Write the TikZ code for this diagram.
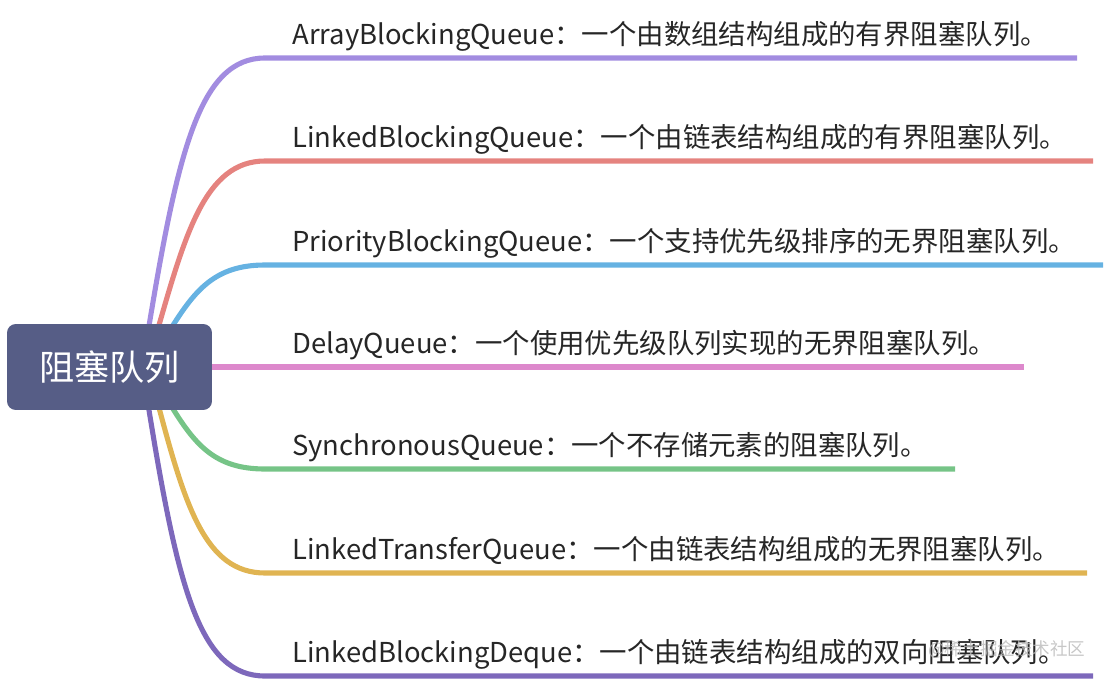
\documentclass[tikz,border=0pt]{standalone}
\usepackage{fontspec}
\setmainfont{Noto Sans CJK SC}
\usetikzlibrary{positioning}

\definecolor{rootblue}{HTML}{565D86}
\definecolor{txtgray}{HTML}{262626}
\definecolor{brPurple}{HTML}{A28CE0}
\definecolor{brRed}{HTML}{E5837F}
\definecolor{brBlue}{HTML}{66B2E2}
\definecolor{brPink}{HTML}{DD88CC}
\definecolor{brGreen}{HTML}{76C487}
\definecolor{brYellow}{HTML}{E0B452}
\definecolor{brDeep}{HTML}{7D68BB}

\begin{document}
\begin{tikzpicture}[
    x=0.02cm, y=-0.02cm,
    branch/.style={line width=2.9pt},
    leaf/.style={anchor=base west, inner sep=0pt, text=txtgray, font=\fontsize{15.6}{18}\selectfont},
    rootbox/.style={fill=rootblue, rounded corners=5pt, minimum width=4.1cm, minimum height=1.72cm,
        inner sep=0pt, text=white, font=\fontsize{20}{22}\selectfont},
]
\useasboundingbox (0,0) rectangle (1110,680);

% === Branch anchors ===
\coordinate (r1) at (148,332);
\coordinate (r2) at (157,332);
\coordinate (r3) at (170,330);
\coordinate (r5) at (170,404);
\coordinate (r6) at (158,404);
\coordinate (r7) at (148,404);

\coordinate (s1) at (265,58);  \coordinate (e1) at (1077,58);
\coordinate (s2) at (265,161); \coordinate (e2) at (1093,161);
\coordinate (s3) at (265,265); \coordinate (e3) at (1103,265);
\coordinate (s4) at (212,367); \coordinate (e4) at (1024,367);
\coordinate (s5) at (265,469); \coordinate (e5) at (955,469);
\coordinate (s6) at (265,573); \coordinate (e6) at (1087,573);
\coordinate (s7) at (265,676); \coordinate (e7) at (1093,676);

% === Curved branches ===
\draw[branch, brPurple] (r1) .. controls (178,150) and (200,58) .. (s1) -- (e1);
\draw[branch, brRed] (r2) .. controls (185,235) and (205,161) .. (s2) -- (e2);
\draw[branch, brBlue] (r3) .. controls (195,290) and (215,265) .. (s3) -- (e3);
\draw[branch, brPink] (s4) -- (e4);
\draw[branch, brGreen] (r5) .. controls (195,445) and (215,469) .. (s5) -- (e5);
\draw[branch, brYellow] (r6) .. controls (185,505) and (205,573) .. (s6) -- (e6);
\draw[branch, brDeep] (r7) .. controls (178,590) and (200,676) .. (s7) -- (e7);

% === Root ===
\node[rootbox] (root) at (109.5,367) {阻塞队列};

% === Leaves ===
\node[leaf] (t1) at (292,44) {ArrayBlockingQueue：一个由数组结构组成的有界阻塞队列。};
\node[leaf] (t2) at (292,147) {LinkedBlockingQueue：一个由链表结构组成的有界阻塞队列。};
\node[leaf] (t3) at (292,251) {PriorityBlockingQueue：一个支持优先级排序的无界阻塞队列。};
\node[leaf] (t4) at (292,353) {DelayQueue：一个使用优先级队列实现的无界阻塞队列。};
\node[leaf] (t5) at (292,455) {SynchronousQueue：一个不存储元素的阻塞队列。};
\node[leaf] (t6) at (292,559) {LinkedTransferQueue：一个由链表结构组成的无界阻塞队列。};
\node[leaf] (t7) at (292,662) {LinkedBlockingDeque：一个由链表结构组成的双向阻塞队列。};

% watermark
\node[anchor=base west, inner sep=0pt, text=gray!55, opacity=0.8, font=\fontsize{10}{12}\selectfont]
    (mark) at (928,655) {@稀土掘金技术社区};

\end{tikzpicture}
\end{document}
